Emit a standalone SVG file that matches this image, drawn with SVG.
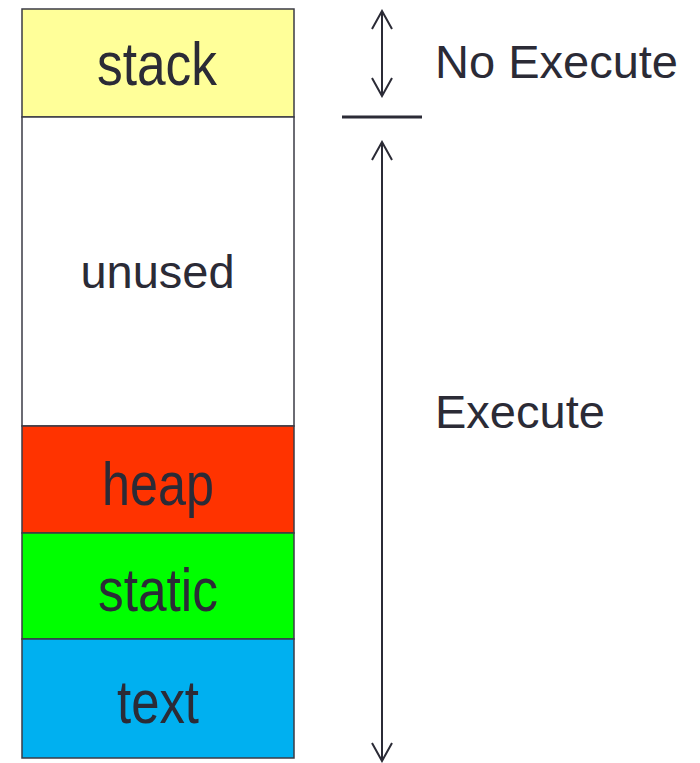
<svg xmlns="http://www.w3.org/2000/svg" width="700" height="763" viewBox="0 0 700 763">
  <style>
    .seg { stroke: #3b3b45; stroke-width: 1.5; }
    .big { font-family: "Liberation Sans", Arial, sans-serif; font-size: 62px; fill: #2b2b36; text-anchor: middle; }
    .lbl { font-family: "Liberation Sans", Arial, sans-serif; font-size: 47px; fill: #2b2b36; }
    .line { stroke: #2b2b36; stroke-width: 2; fill: none; }
  </style>
  <defs>
    <!-- open chevron head, tip pointing along the line direction -->
    <marker id="head" viewBox="0 0 24 24" refX="22" refY="12" markerWidth="24" markerHeight="24" markerUnits="userSpaceOnUse" orient="auto-start-reverse">
      <path d="M4,2 L22,12 L4,22" fill="none" stroke="#2b2b36" stroke-width="2"/>
    </marker>
  </defs>
  <rect width="700" height="763" fill="#ffffff"/>

  <g id="stack">
    <rect class="seg" x="22" y="9" width="272" height="108" fill="#ffff99"/>
    <text class="big" x="157" y="85" textLength="120" lengthAdjust="spacingAndGlyphs">stack</text>
  </g>
  <g id="unused">
    <rect class="seg" x="22" y="117" width="272" height="309" fill="#ffffff"/>
    <text class="lbl" x="157.5" y="288" text-anchor="middle" font-size="46">unused</text>
  </g>
  <g id="heap">
    <rect class="seg" x="22" y="426" width="272" height="107" fill="#ff3300"/>
    <text class="big" x="158" y="505" textLength="112" lengthAdjust="spacingAndGlyphs">heap</text>
  </g>
  <g id="static">
    <rect class="seg" x="22" y="533" width="272" height="106" fill="#00ff00"/>
    <text class="big" x="158" y="611" textLength="120" lengthAdjust="spacingAndGlyphs">static</text>
  </g>
  <g id="text">
    <rect class="seg" x="22" y="639" width="272" height="119" fill="#00b0f0"/>
    <text class="big" x="158" y="723" textLength="82" lengthAdjust="spacingAndGlyphs">text</text>
  </g>

  <g id="connectors">
    <line class="line" x1="382" y1="11" x2="382" y2="96" marker-start="url(#head)" marker-end="url(#head)"/>
    <line x1="342" y1="117" x2="422" y2="117" stroke="#2b2b36" stroke-width="3"/>
    <line class="line" x1="382" y1="142" x2="382" y2="761" marker-start="url(#head)" marker-end="url(#head)"/>
  </g>

  <g id="labels">
    <text class="lbl" x="435" y="78">No Execute</text>
    <text class="lbl" x="435" y="428">Execute</text>
  </g>
</svg>
